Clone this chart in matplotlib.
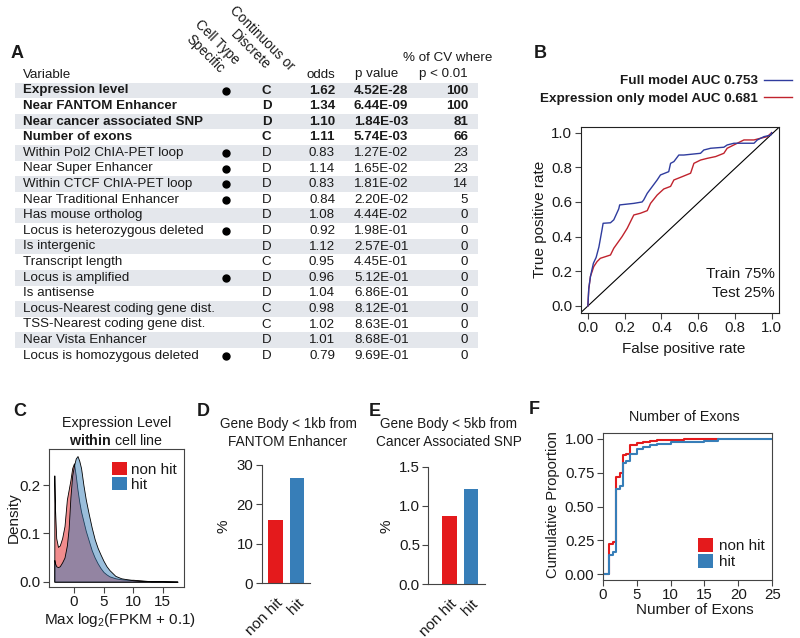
import matplotlib
matplotlib.use("Agg")
import matplotlib.pyplot as plt
from matplotlib.patches import Rectangle, Patch
from matplotlib.lines import Line2D
from matplotlib.colors import to_rgba

plt.rcParams['font.family'] = ['Liberation Sans', 'DejaVu Sans']
plt.rcParams['mathtext.fontset'] = 'custom'
plt.rcParams['mathtext.rm'] = 'Liberation Sans'
plt.rcParams['mathtext.bf'] = 'Liberation Sans:bold'
plt.rcParams['mathtext.it'] = 'Liberation Sans:italic'
plt.rcParams['text.color'] = '#1a1a1a'

# ---- panel A: logistic regression table ----
variables = ["Expression level", "Near FANTOM Enhancer", "Near cancer associated SNP",
             "Number of exons", "Within Pol2 ChIA-PET loop", "Near Super Enhancer",
             "Within CTCF ChIA-PET loop", "Near Traditional Enhancer", "Has mouse ortholog",
             "Locus is heterozygous deleted", "Is intergenic", "Transcript length",
             "Locus is amplified", "Is antisense", "Locus-Nearest coding gene dist.",
             "TSS-Nearest coding gene dist.", "Near Vista Enhancer",
             "Locus is homozygous deleted"]
cell_specific = [1, 0, 0, 0, 1, 1, 1, 1, 0, 1, 0, 0, 1, 0, 0, 0, 0, 1]
cont_disc = ["C", "D", "D", "C", "D", "D", "D", "D", "D", "D", "D", "C", "D", "D", "C", "C", "D", "D"]
odds = [1.62, 1.34, 1.10, 1.11, 0.83, 1.14, 0.83, 0.84, 1.08, 0.92, 1.12, 0.95, 0.96,
        1.04, 0.98, 1.02, 1.01, 0.79]
p_values = ["4.52E-28", "6.44E-09", "1.84E-03", "5.74E-03", "1.27E-02", "1.65E-02",
            "1.81E-02", "2.20E-02", "4.44E-02", "1.98E-01", "2.57E-01", "4.45E-01",
            "5.12E-01", "6.86E-01", "8.12E-01", "8.63E-01", "8.68E-01", "9.69E-01"]
pct_cv = [100, 100, 81, 66, 23, 23, 14, 5, 0, 0, 0, 0, 0, 0, 0, 0, 0, 0]
n_bold = 4

# ---- panel B: ROC curves ----
full_fpr = [0, 0.005, 0.014, 0.03, 0.045, 0.06, 0.077, 0.083, 0.123, 0.141, 0.168, 0.173,
            0.25, 0.295, 0.304, 0.323, 0.377, 0.395, 0.44, 0.45, 0.468, 0.495, 0.522,
            0.613, 0.631, 0.668, 0.74, 0.758, 0.795, 0.904, 0.922, 0.958, 0.995, 1.0]
full_tpr = [0, 0.1, 0.17, 0.246, 0.28, 0.34, 0.44, 0.477, 0.48, 0.497, 0.56, 0.583,
            0.592, 0.60, 0.612, 0.65, 0.727, 0.756, 0.775, 0.823, 0.833, 0.871, 0.871,
            0.881, 0.90, 0.91, 0.916, 0.929, 0.939, 0.939, 0.958, 0.977, 0.986, 1.0]
expr_fpr = [0, 0.005, 0.014, 0.032, 0.05, 0.068, 0.123, 0.141, 0.186, 0.214, 0.241, 0.25,
            0.286, 0.323, 0.341, 0.377, 0.413, 0.45, 0.468, 0.513, 0.559, 0.577, 0.613,
            0.65, 0.695, 0.74, 0.758, 0.813, 0.849, 0.904, 0.94, 0.976, 1.0]
expr_tpr = [0, 0.1, 0.17, 0.227, 0.256, 0.275, 0.294, 0.333, 0.4, 0.448, 0.506, 0.525,
            0.535, 0.55, 0.592, 0.64, 0.675, 0.69, 0.727, 0.746, 0.766, 0.823, 0.842,
            0.852, 0.862, 0.881, 0.91, 0.939, 0.958, 0.958, 0.968, 0.977, 1.0]
roc_labels = ["Full model AUC 0.753", "Expression only model AUC 0.681"]

# ---- panel C: expression density ----
density_x = [-3.32, -3.2, -3.0, -2.7, -2.4, -2.0, -1.6, -1.2, -0.9, -0.6, -0.3, 0.0, 0.3,
             0.6, 0.9, 1.2, 1.6, 2.0, 2.5, 3.0, 3.5, 4.0, 4.5, 5.0, 5.5, 6.0, 7.0, 8.0,
             9.0, 10.0, 11.0, 12.0, 13.0, 14.0, 15.0, 16.0, 17.5]
nonhit_density = [0.22, 0.15, 0.09, 0.072, 0.075, 0.09, 0.115, 0.17, 0.19, 0.21, 0.235,
                  0.245, 0.22, 0.19, 0.165, 0.145, 0.125, 0.105, 0.085, 0.065, 0.05,
                  0.038, 0.028, 0.02, 0.015, 0.011, 0.007, 0.005, 0.004, 0.004, 0.003,
                  0.002, 0.001, 0.001, 0.001, 0.0005, 0.0]
hit_density = [0.045, 0.038, 0.032, 0.03, 0.032, 0.04, 0.05, 0.075, 0.11, 0.175, 0.22,
               0.24, 0.255, 0.26, 0.25, 0.235, 0.2, 0.17, 0.14, 0.112, 0.088, 0.07, 0.056,
               0.043, 0.032, 0.024, 0.012, 0.007, 0.005, 0.003, 0.002, 0.0015, 0.001,
               0.001, 0.001, 0.0005, 0.0]

# ---- panels D, E: bars ----
groups = ["non hit", "hit"]
fantom_pct = [16.1, 26.6]
snp_pct = [0.87, 1.215]

# ---- panel F: cumulative number of exons ----
nonhit_exons = [0, 1, 1.5, 2, 2.5, 3, 3.5, 4, 5, 6, 7, 8, 10, 12, 17]
nonhit_cdf = [0, 0.22, 0.235, 0.72, 0.745, 0.885, 0.89, 0.955, 0.97, 0.98, 0.988, 0.993,
              0.996, 0.998, 1.0]
hit_exons = [0, 1, 1.5, 2, 2.5, 3, 3.5, 4, 5, 6, 7, 8, 10, 12, 15, 17, 25]
hit_cdf = [0, 0.14, 0.165, 0.627, 0.655, 0.82, 0.84, 0.89, 0.925, 0.94, 0.955, 0.965,
           0.975, 0.98, 0.985, 1.0, 1.0]

RED = '#e41a1c'
BLUE = '#377eb8'
ROC_BLUE = '#2f3c9e'
ROC_RED = '#c0232d'
SPINE = '#444444'

W, H = 800, 638
fig = plt.figure(figsize=(8, 6.38), dpi=100)


def box(l, t, r, b):
    return [l / W, 1 - b / H, (r - l) / W, (b - t) / H]


def ftext(x, y, s, **kw):
    kw.setdefault('ha', 'center')
    kw.setdefault('va', 'center')
    return fig.text(x / W, 1 - y / H, s, **kw)


def style_ticks(ax, size):
    ax.tick_params(direction='out', length=4, width=0.8, color=SPINE, labelsize=size,
                   pad=2, labelcolor='#1a1a1a')
    for s in ax.spines.values():
        s.set_color(SPINE)
        s.set_linewidth(0.8)


# panel A drawn on a full-figure pixel axes
ax_a = fig.add_axes([0, 0, 1, 1])
ax_a.set_xlim(0, W)
ax_a.set_ylim(H, 0)
ax_a.axis('off')

fs = 9.6
row0, dy = 90.5, 15.6
for i, name in enumerate(variables):
    y = row0 + i * dy
    if i % 2 == 0:
        ax_a.add_patch(Rectangle((15, y - dy / 2), 463, dy, color='#e4e7ec', lw=0, zorder=0))
    wt = 'bold' if i < n_bold else 'normal'
    kw = dict(va='center', fontsize=fs, fontweight=wt)
    ax_a.text(23, y, name, ha='left', **kw)
    if cell_specific[i]:
        ax_a.plot(226, y, 'o', ms=5, color='black')
    ax_a.text(266.5, y, cont_disc[i], ha='center', **kw)
    ax_a.text(335, y, f"{odds[i]:.2f}", ha='right', **kw)
    ax_a.text(354, y, p_values[i], ha='left', **kw)
    ax_a.text(468, y, str(pct_cv[i]), ha='right', **kw)

ax_a.text(23, 74.5, "Variable", ha='left', va='center', fontsize=fs)
ax_a.text(335.5, 74.5, "odds", ha='right', va='center', fontsize=fs)
ax_a.text(355, 74.5, "p value", ha='left', va='center', fontsize=fs)
ax_a.text(468, 74.5, "p < 0.01", ha='right', va='center', fontsize=fs)
ax_a.text(447.5, 58.3, "% of CV where", ha='center', va='center', fontsize=fs)
ax_a.text(210.8, 48.3, "Cell Type\nSpecific", rotation=-45, rotation_mode='anchor',
          ha='center', va='center', multialignment='center', fontsize=9.8)
ax_a.text(255.7, 44.3, "Continuous or\nDiscrete", rotation=-45, rotation_mode='anchor',
          ha='center', va='center', multialignment='center', fontsize=9.8)

# panel letters
for letter, (x, y) in {"A": (17.5, 54), "B": (540, 54), "C": (20, 411),
                       "D": (203, 411), "E": (375, 411), "F": (534, 410)}.items():
    ftext(x, y, letter, fontsize=13, fontweight='bold')

# panel B
ax_b = fig.add_axes(box(580.7, 127.3, 779, 312.7))
ax_b.plot([0, 1], [0, 1], transform=ax_b.transAxes, color='black', lw=0.8)
ax_b.plot(expr_fpr, expr_tpr, color=ROC_RED, lw=1.0)
ax_b.plot(full_fpr, full_tpr, color=ROC_BLUE, lw=1.0)
ax_b.set_xlim(-0.039, 1.04)
ax_b.set_ylim(-0.039, 1.031)
ticks = [0, 0.2, 0.4, 0.6, 0.8, 1.0]
ax_b.set_xticks(ticks, [f"{t:.1f}" for t in ticks])
ax_b.set_yticks(ticks, [f"{t:.1f}" for t in ticks])
style_ticks(ax_b, 10.8)
for s in ax_b.spines.values():
    s.set_color('#222222')
ftext(683.7, 349, "False positive rate", fontsize=11)
ftext(540, 219.5, "True positive rate", fontsize=11, rotation=90)
ftext(775, 274, "Train 75%", ha='right', fontsize=11)
ftext(775, 292.7, "Test 25%", ha='right', fontsize=11)
roc_handles = [Line2D([], [], color=ROC_BLUE, lw=1.0), Line2D([], [], color=ROC_RED, lw=1.0)]
fig.legend(roc_handles, roc_labels, markerfirst=False, loc='upper right',
           bbox_to_anchor=(792 / W, 1 - 75 / H), frameon=False,
           prop={'weight': 'bold', 'size': 9.7}, handlelength=2.1, handletextpad=0.45,
           labelspacing=0.38, borderpad=0, borderaxespad=0)

# panel C
ax_c = fig.add_axes(box(49, 449.3, 184, 586.7))
ax_c.fill_between(density_x, nonhit_density, facecolor=to_rgba(RED, 0.5),
                  edgecolor='black', lw=0.6)
ax_c.fill_between(density_x, hit_density, facecolor=to_rgba(BLUE, 0.5),
                  edgecolor='black', lw=0.6)
ax_c.set_xlim(-4.22, 18.6)
ax_c.set_ylim(-0.0104, 0.274)
ax_c.set_xticks([0, 5, 10, 15])
ax_c.set_yticks([0, 0.1, 0.2], ["0.0", "0.1", "0.2"])
style_ticks(ax_c, 11)
ftext(117, 423.3, "Expression Level", fontsize=10.3)
ftext(116.3, 440.7, r"$\mathbf{within}$ cell line", fontsize=10.3)
ftext(13.3, 517.5, "Density", fontsize=11, rotation=90)
ftext(120.5, 620, r"Max log$_2$(FPKM + 0.1)", fontsize=11)
leg_handles = [Patch(facecolor=RED), Patch(facecolor=BLUE)]
ax_c.legend(leg_handles, groups, loc='upper left', bbox_to_anchor=(112 / W, 1 - 461.5 / H),
            bbox_transform=fig.transFigure, frameon=False, fontsize=11, handlelength=1.0,
            handleheight=1.0, handletextpad=0.25, labelspacing=0.0, borderpad=0,
            borderaxespad=0)


def bar_panel(rect, values, xlim, ylim, yticks, ylabels, title, title_x, ylabel_x):
    ax = fig.add_axes(rect)
    ax.bar([0, 1], values, width=0.67, color=[RED, BLUE])
    ax.set_xlim(*xlim)
    ax.set_ylim(*ylim)
    ax.set_yticks(yticks, ylabels)
    ax.set_xticks([0, 1], groups, rotation=45, ha='right', rotation_mode='anchor')
    ax.spines['top'].set_visible(False)
    ax.spines['right'].set_visible(False)
    style_ticks(ax, 10.8)
    ax.tick_params(axis='x', length=0, pad=9, labelsize=11)
    t1, t2 = title
    ftext(title_x, 424, t1, fontsize=9.8)
    ftext(title_x, 441.7, t2, fontsize=9.8)
    ftext(ylabel_x, 526.7, "%", fontsize=11, rotation=90)
    return ax


bar_panel(box(261.7, 465, 310, 583.3), fantom_pct, (-0.642, 1.605), (0, 30),
          [0, 10, 20, 30], ["0", "10", "20", "30"],
          ("Gene Body < 1kb from", "FANTOM Enhancer"), 288, 223.3)
bar_panel(box(428.3, 466.7, 485, 584), snp_pct, (-0.986, 1.65), (0, 1.5),
          [0, 0.5, 1.0, 1.5], ["0.0", "0.5", "1.0", "1.5"],
          ("Gene Body < 5kb from", "Cancer Associated SNP"), 449, 386.7)

# panel F
ax_f = fig.add_axes(box(602.7, 433.3, 772.3, 580))
ax_f.step(nonhit_exons, nonhit_cdf, where='post', color=RED, lw=1.5)
ax_f.step(hit_exons, hit_cdf, where='post', color=BLUE, lw=1.5)
ax_f.set_xlim(0, 25)
ax_f.set_ylim(-0.044, 1.042)
ax_f.set_xticks([0, 5, 10, 15, 20, 25])
ax_f.set_yticks([0, 0.25, 0.5, 0.75, 1.0], ["0.00", "0.25", "0.50", "0.75", "1.00"])
style_ticks(ax_f, 10.8)
ftext(684, 417.3, "Number of Exons", fontsize=10.3)
ftext(694.7, 610, "Number of Exons", fontsize=11)
ftext(553.3, 505, "Cumulative Proportion", fontsize=10.6, rotation=90)
ax_f.legend(leg_handles, groups, loc='upper left', bbox_to_anchor=(698 / W, 1 - 538 / H),
            bbox_transform=fig.transFigure, frameon=False, fontsize=11, handlelength=1.0,
            handleheight=1.0, handletextpad=0.35, labelspacing=0.05, borderpad=0,
            borderaxespad=0)

fig.savefig("out.png", dpi=100)
